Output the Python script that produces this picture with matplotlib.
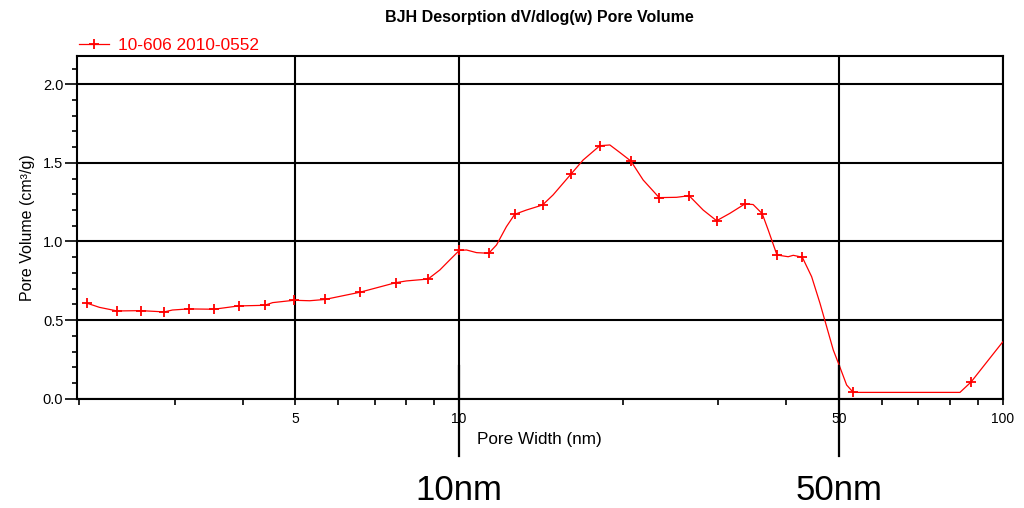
"""BJH desorption dV/dlog(w) pore volume curve with 10 nm / 50 nm markers."""
import matplotlib
matplotlib.use("Agg")
import matplotlib.pyplot as plt
from matplotlib.lines import Line2D
from matplotlib.ticker import FixedLocator, NullFormatter, FormatStrFormatter, MultipleLocator
import matplotlib.transforms as mtransforms

plt.rcParams["font.family"] = ["Liberation Sans", "DejaVu Sans"]

SAMPLE = "10-606 2010-0552"
TITLE = "BJH Desorption dV/dlog(w) Pore Volume"

# measured points (drawn with '+')
pore_width = [2.07, 2.35, 2.60, 2.87, 3.18, 3.54, 3.93, 4.39, 4.97, 5.66,
              6.57, 7.65, 8.77, 10.01, 11.34, 12.66, 14.24, 16.05, 18.15,
              20.70, 23.34, 26.50, 29.77, 33.56, 36.11, 38.44, 42.79, 53.10,
              87.45]
pore_volume = [0.607, 0.558, 0.560, 0.552, 0.571, 0.569, 0.590, 0.594, 0.626,
               0.631, 0.677, 0.738, 0.761, 0.943, 0.925, 1.173, 1.232, 1.427,
               1.609, 1.512, 1.279, 1.291, 1.132, 1.239, 1.177, 0.914, 0.900,
               0.040, 0.106]

# smoothed curve
curve_width = [2.07, 2.18, 2.35, 2.60, 2.87, 2.97, 3.18, 3.54, 3.93, 4.39,
               4.54, 4.97, 5.31, 5.66, 6.57, 7.65, 8.00, 8.77, 9.22, 9.61,
               10.01, 10.32, 10.77, 11.34, 11.72, 12.22, 12.66, 13.30, 14.24,
               14.89, 16.05, 16.91, 18.15, 18.94, 19.76, 20.70, 21.81, 23.34,
               25.12, 26.50, 28.12, 29.77, 31.49, 33.56, 34.75, 36.11, 37.04,
               38.44, 40.31, 41.18, 42.79, 44.52, 46.12, 47.44, 48.79, 50.19,
               51.63, 53.10, 83.44, 87.45, 100.0]
curve_volume = [0.607, 0.581, 0.558, 0.560, 0.552, 0.564, 0.571, 0.569, 0.590,
                0.594, 0.611, 0.626, 0.623, 0.631, 0.677, 0.738, 0.749, 0.761,
                0.819, 0.882, 0.943, 0.946, 0.929, 0.925, 0.978, 1.094, 1.173,
                1.200, 1.232, 1.296, 1.427, 1.518, 1.609, 1.614, 1.566, 1.512,
                1.391, 1.279, 1.281, 1.291, 1.200, 1.132, 1.179, 1.239, 1.235,
                1.177, 1.073, 0.914, 0.903, 0.912, 0.900, 0.776, 0.607, 0.458,
                0.310, 0.200, 0.087, 0.040, 0.040, 0.106, 0.361]

major_x = [5, 10, 50, 100]
minor_x = [2, 3, 4, 6, 7, 8, 9, 20, 30, 40, 60, 70, 80, 90]
major_y = [0.0, 0.5, 1.0, 1.5, 2.0]

mark_widths = [10, 50]
mark_labels = ["10nm", "50nm"]


def main():
    fig = plt.figure(figsize=(10.24, 5.08), dpi=100)
    ax = fig.add_axes([0.0749, 0.2152, 0.9043, 0.6746])

    ax.plot(curve_width, curve_volume, color="red", lw=0.9, zorder=3)
    ax.plot(pore_width, pore_volume, ls="none", marker="+", ms=7, mew=1.3,
            color="red", zorder=4)

    ax.set_xscale("log")
    ax.set_xlim(1.98, 100)
    ax.set_ylim(0, 2.18)

    ax.xaxis.set_major_locator(FixedLocator(major_x))
    ax.xaxis.set_minor_locator(FixedLocator(minor_x))
    ax.xaxis.set_major_formatter(FormatStrFormatter("%g"))
    ax.xaxis.set_minor_formatter(NullFormatter())
    ax.yaxis.set_major_locator(FixedLocator(major_y))
    ax.yaxis.set_minor_locator(MultipleLocator(0.1))
    ax.yaxis.set_major_formatter(FormatStrFormatter("%.1f"))

    ax.tick_params(axis="x", which="both", direction="out", length=4.3,
                   width=1.2, pad=5.5, labelsize=10)
    ax.tick_params(axis="y", which="major", direction="out", length=8.4,
                   width=1.2, pad=1.2, labelsize=10.5)
    ax.tick_params(axis="y", which="minor", direction="out", length=3.6,
                   width=1.2)
    for sp in ax.spines.values():
        sp.set_linewidth(1.5)
    ax.grid(True, which="major", color="black", lw=1.5)

    ax.set_xlabel("Pore Width (nm)", fontsize=12.3, labelpad=4)
    ax.set_ylabel("Pore Volume (cm³/g)", fontsize=11.5, labelpad=6)
    ax.set_title(TITLE, fontsize=11.5, fontweight="bold", pad=24.5)

    handle = Line2D([], [], color="red", lw=0.9, marker="+", ms=7, mew=1.3)
    ax.legend([handle], [SAMPLE], loc="lower left", bbox_to_anchor=(0.0, 1.0),
              frameon=False, borderaxespad=0.0, borderpad=0.15,
              handlelength=1.7, handletextpad=0.55, fontsize=12.4,
              labelcolor="red")

    # 10 nm / 50 nm guide marks below the axis
    trans = mtransforms.blended_transform_factory(ax.transData, ax.transAxes)
    for w, lab in zip(mark_widths, mark_labels):
        ax.plot([w, w], [0.095, -0.167], color="black", lw=1.6,
                transform=trans, clip_on=False, zorder=5)
        ax.text(w, -0.296, lab, transform=trans, ha="center", va="baseline",
                fontsize=25)

    fig.savefig("out.png", dpi=100)
    plt.close(fig)


if __name__ == "__main__":
    main()
